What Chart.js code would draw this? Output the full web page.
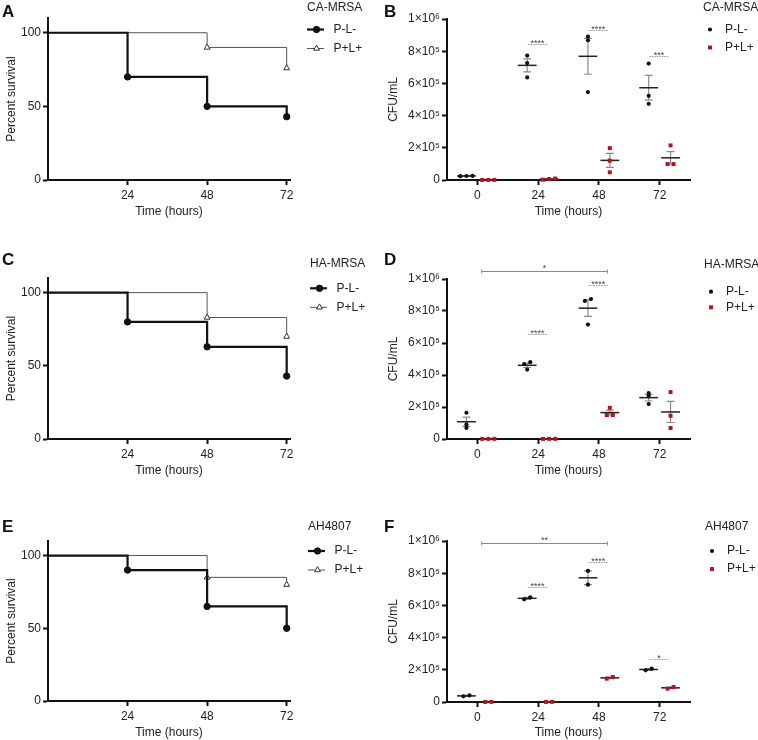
<!DOCTYPE html>
<html>
<head>
<meta charset="utf-8">
<script src="https://cdn.jsdelivr.net/npm/chart.js@4.4.1/dist/chart.umd.min.js"></script>
<style>
  html, body { margin: 0; padding: 0; background: #fff; }
  #fig { position: relative; width: 758px; height: 740px; overflow: hidden; }
  canvas { position: absolute; }
</style>
</head>
<body>
<div id="fig">
  <canvas id="pA" width="379" height="250" style="left:0;top:0"></canvas>
  <canvas id="pB" width="379" height="250" style="left:379px;top:0"></canvas>
  <canvas id="pC" width="379" height="240" style="left:0;top:250px"></canvas>
  <canvas id="pD" width="379" height="240" style="left:379px;top:250px"></canvas>
  <canvas id="pE" width="379" height="250" style="left:0;top:490px"></canvas>
  <canvas id="pF" width="379" height="250" style="left:379px;top:490px"></canvas>
</div>
<script>
// ---- survival curves (hours, percent survival) ----
const kmTimesNeg = [0, 24, 48, 72];
const kmTimesPos = [0, 48, 72];
const survA_neg = [100, 70, 50, 43];
const survA_pos = [100, 90, 76];
const survC_neg = [100, 80, 63, 43];
const survC_pos = [100, 83, 70];
const survE_neg = [100, 90, 65, 50];
const survE_pos = [100, 85, 80];
const survTicks = [0, 50, 100];
const kmTimeTicks = [24, 48, 72];

// ---- bacterial load, CFU/mL per animal at each time point ----
const timeLabels = ['0', '24', '48', '72'];
const cfuB_neg = [[24000, 26000, 25000], [773000, 726000, 637000], [891000, 868000, 546000], [723000, 523000, 473000]];
const cfuB_pos = [[800, 600, 1000], [2000, 9000, 6000], [198000, 120000, 48000], [215000, 99000, 99000]];
const cfuD_neg = [[164000, 91000, 69000], [480000, 468000, 434000], [875000, 863000, 715000], [287000, 270000, 218000]];
const cfuD_pos = [[800, 600, 1000], [800, 600, 1000], [195000, 150000, 150000], [293000, 145000, 69000]];
const cfuF_neg = [[35000, 41000], [638000, 650000], [814000, 729000], [197000, 207000]];
const cfuF_pos = [[500, 800], [700, 900], [145000, 155000], [83000, 93000]];
const cfuTicks = [0, 200000, 400000, 600000, 800000, 1000000];
const cfuTickLabels = ['0', '2×10⁵', '4×10⁵', '6×10⁵', '8×10⁵', '1×10⁶'];

// ---- significance marks ----
const sigB_time = [1, 2, 3];
const sigB_y = [843000, 934000, 773000];
const sigB_text = ['****', '****', '***'];
const sigD_time = [1, 2];
const sigD_y = [659000, 963000];
const sigD_text = ['****', '****'];
const sigD_bracket = [0, 2, 1052000, '*'];
const sigF_time = [1, 2, 3];
const sigF_y = [714000, 867000, 269000];
const sigF_text = ['****', '****', '*'];
const sigF_bracket = [0, 2, 990000, '**'];

const FONT = "'Liberation Sans', Arial, Helvetica, sans-serif";
Chart.defaults.font.family = FONT;
Chart.defaults.font.size = 12;
Chart.defaults.color = '#222';

// draw one legend marker like the dataset uses
function marker(ctx, ds, x, y) {
  const r = ds.legendRadius;
  ctx.save();
  ctx.fillStyle = ds.pointBackgroundColor;
  ctx.strokeStyle = ds.pointBorderColor;
  ctx.lineWidth = ds.pointBorderWidth || 1;
  ctx.beginPath();
  if (ds.pointStyle === 'triangle') {
    ctx.moveTo(x, y - r);
    ctx.lineTo(x + 0.866 * r, y + 0.5 * r);
    ctx.lineTo(x - 0.866 * r, y + 0.5 * r);
    ctx.closePath();
  } else if (ds.pointStyle === 'rect') {
    const s = Math.SQRT1_2 * r;
    ctx.rect(x - s, y - s, 2 * s, 2 * s);
  } else {
    ctx.arc(x, y, r, 0, Math.PI * 2);
  }
  ctx.fill();
  if (ds.pointBorderWidth) ctx.stroke();
  ctx.restore();
}

// panel letter + legend block
const decor = {
  id: 'decor',
  afterDraw(chart, args, o) {
    const ctx = chart.ctx;
    ctx.save();
    ctx.textAlign = 'left';
    ctx.textBaseline = 'middle';
    ctx.fillStyle = '#111';
    ctx.font = 'bold 17px ' + FONT;
    ctx.fillText(o.letter, o.letterX, o.letterY);
    ctx.font = '12px ' + FONT;
    ctx.fillStyle = '#222';
    ctx.fillText(o.title, o.x, o.ty);
    chart.data.datasets.forEach((ds, i) => {
      const y = o.rows[i];
      if (o.kind === 'km') {
        ctx.strokeStyle = ds.borderColor;
        ctx.lineWidth = ds.borderWidth;
        ctx.beginPath();
        ctx.moveTo(o.x, y);
        ctx.lineTo(o.x + 17, y);
        ctx.stroke();
        marker(ctx, ds, o.x + 9.5, y);
        ctx.fillStyle = '#222';
        ctx.fillText(ds.label, o.x + 26.5, y);
      } else {
        marker(ctx, ds, o.x + 7, y);
        ctx.fillStyle = '#222';
        ctx.fillText(ds.label, o.x + 22, y);
      }
    });
    ctx.restore();
  }
};

// mean +/- SEM for each time point
const meanSem = {
  id: 'meanSem',
  beforeDatasetsDraw(chart) {
    const { ctx, scales: { x, y } } = chart;
    ctx.save();
    chart.data.datasets.forEach(ds => {
      ds.groups.forEach((g, i) => {
        const n = g.length;
        const m = g.reduce((a, b) => a + b, 0) / n;
        const sd = Math.sqrt(g.reduce((a, b) => a + (b - m) * (b - m), 0) / (n - 1));
        const sem = sd / Math.sqrt(n);
        const cx = x.getPixelForValue(i + ds.side);
        const hw = x.getPixelForValue(0.155) - x.getPixelForValue(0);
        const cw = x.getPixelForValue(0.065) - x.getPixelForValue(0);
        const yt = y.getPixelForValue(m + sem), yb = y.getPixelForValue(m - sem);
        ctx.strokeStyle = '#8a8a8a';
        ctx.lineWidth = 1.2;
        ctx.beginPath();
        ctx.moveTo(cx, yt); ctx.lineTo(cx, yb);
        ctx.moveTo(cx - cw, yt); ctx.lineTo(cx + cw, yt);
        ctx.moveTo(cx - cw, yb); ctx.lineTo(cx + cw, yb);
        ctx.stroke();
        const ym = y.getPixelForValue(m);
        ctx.strokeStyle = '#222';
        ctx.lineWidth = 1.5;
        ctx.beginPath();
        ctx.moveTo(cx - hw, ym); ctx.lineTo(cx + hw, ym);
        ctx.stroke();
      });
    });
    ctx.restore();
  }
};

// asterisks: dotted pair lines and an optional bracket
const sig = {
  id: 'sig',
  afterDatasetsDraw(chart, args, o) {
    const { ctx, scales: { x, y } } = chart;
    ctx.save();
    ctx.textAlign = 'center';
    ctx.textBaseline = 'alphabetic';
    ctx.font = '9px ' + FONT;
    o.time.forEach((t, k) => {
      const x0 = x.getPixelForValue(t - 0.17), x1 = x.getPixelForValue(t + 0.15);
      const py = Math.round(y.getPixelForValue(o.y[k])) + 0.5;
      ctx.strokeStyle = '#9a9a9a';
      ctx.lineWidth = 1;
      ctx.setLineDash([1.5, 1]);
      ctx.beginPath(); ctx.moveTo(x0, py); ctx.lineTo(x1, py); ctx.stroke();
      ctx.setLineDash([]);
      ctx.fillStyle = '#444';
      ctx.fillText(o.text[k], (x0 + x1) / 2, py + 1);
    });
    if (o.bracket) {
      const [a, b, v, txt] = o.bracket;
      const x0 = x.getPixelForValue(a + 0.07), x1 = x.getPixelForValue(b + 0.14);
      const py = Math.round(y.getPixelForValue(v)) + 0.5;
      ctx.strokeStyle = '#8a8a8a';
      ctx.lineWidth = 1;
      ctx.beginPath();
      ctx.moveTo(x0, py); ctx.lineTo(x1, py);
      ctx.moveTo(x0, py - 2); ctx.lineTo(x0, py + 2);
      ctx.moveTo(x1, py - 2); ctx.lineTo(x1, py + 2);
      ctx.stroke();
      ctx.fillStyle = '#444';
      ctx.fillText(txt, (x0 + x1) / 2, py - 1);
    }
    ctx.restore();
  }
};

// spread points that would sit on top of each other
function spread(vals) {
  const idx = vals.map((v, i) => i).sort((a, b) => vals[a] - vals[b]);
  const off = new Array(vals.length).fill(0);
  let start = 0;
  for (let k = 1; k <= idx.length; k++) {
    if (k === idx.length || vals[idx[k]] - vals[idx[k - 1]] > 15000) {
      const n = k - start;
      for (let j = start; j < k; j++) off[idx[j]] = (j - start - (n - 1) / 2) * 0.1;
      start = k;
    }
  }
  return off;
}

function xAxis(box, min, max, ticks, fmt) {
  return {
    type: 'linear', min: min, max: max,
    afterBuildTicks: s => { s.ticks = ticks.map(v => ({ value: v })); },
    afterFit: s => { s.height = box.h - box.bottom; },
    ticks: { color: '#222', padding: 3, maxRotation: 0, autoSkip: false, callback: fmt },
    grid: { drawOnChartArea: false, tickLength: 5, tickWidth: 2, tickColor: '#111' },
    border: { color: '#111', width: 2 },
    title: { display: true, text: 'Time (hours)', color: '#222', padding: { top: 0, bottom: Math.max(0, box.h - box.bottom - 39) } }
  };
}

function yAxis(box, max, ticks, fmt, title) {
  return {
    type: 'linear', min: 0, max: max,
    afterBuildTicks: s => { s.ticks = ticks.map(v => ({ value: v })); },
    afterFit: s => { s.width = box.left; },
    ticks: { color: '#222', padding: 2, autoSkip: false, callback: fmt },
    grid: { drawOnChartArea: false, tickLength: 5, tickWidth: 2, tickColor: '#111' },
    border: { color: '#111', width: 2 },
    title: { display: true, text: title, color: '#222', padding: { top: box.ytitle - 7, bottom: 0 } }
  };
}

function layoutOf(box) {
  return { padding: { left: 0, top: box.top, right: 379 - box.right, bottom: 0 } };
}

function survivalChart(id, box, neg, pos, legend) {
  new Chart(id, {
    type: 'scatter',
    data: {
      datasets: [
        {
          label: 'P-L-',
          data: kmTimesNeg.map((t, i) => ({ x: t, y: neg[i] })),
          showLine: true, stepped: true,
          borderColor: '#111', borderWidth: 2.2,
          pointStyle: 'circle', pointBackgroundColor: '#111', pointBorderColor: '#111', pointBorderWidth: 1,
          pointRadius: c => c.dataIndex === 0 ? 0 : 3.2, legendRadius: 3.2,
          clip: false
        },
        {
          label: 'P+L+',
          data: kmTimesPos.map((t, i) => ({ x: t, y: pos[i] })),
          showLine: true, stepped: true,
          borderColor: '#555', borderWidth: 1,
          pointStyle: 'triangle', pointBackgroundColor: '#fff', pointBorderColor: '#333', pointBorderWidth: 1,
          pointRadius: c => c.dataIndex === 0 ? 0 : 3.4, legendRadius: 3.4,
          clip: false
        }
      ]
    },
    options: {
      responsive: false, animation: false, events: [],
      layout: layoutOf(box),
      plugins: { legend: { display: false }, tooltip: { enabled: false }, decor: legend },
      scales: {
        x: xAxis(box, 0, 73, kmTimeTicks, v => String(v)),
        y: yAxis(box, 110, survTicks, v => String(v), 'Percent survival')
      }
    },
    plugins: [decor]
  });
}

function cfuDataset(label, groups, side, color, style, r) {
  const pts = [];
  groups.forEach((g, i) => {
    const off = spread(g);
    g.forEach((v, k) => pts.push({ x: i + side + off[k], y: v }));
  });
  return {
    label: label, data: pts, groups: groups, side: side,
    pointStyle: style, pointRadius: r, legendRadius: r,
    pointBackgroundColor: color, pointBorderColor: color, pointBorderWidth: 0,
    clip: false
  };
}

function cfuChart(id, box, neg, pos, sigOpts, legend) {
  new Chart(id, {
    type: 'scatter',
    data: {
      datasets: [
        cfuDataset('P-L-', neg, -0.18, '#111', 'circle', 2.1),
        cfuDataset('P+L+', pos, 0.18, '#b5121b', 'rect', 2.8)
      ]
    },
    options: {
      responsive: false, animation: false, events: [],
      layout: layoutOf(box),
      plugins: { legend: { display: false }, tooltip: { enabled: false }, decor: legend, sig: sigOpts },
      scales: {
        x: xAxis(box, -0.5, 3.5, [0, 1, 2, 3], v => timeLabels[v]),
        y: yAxis(box, 1000000, cfuTicks, (v, i) => cfuTickLabels[i], 'CFU/mL')
      }
    },
    plugins: [meanSem, sig, decor]
  });
}

survivalChart('pA', { left: 48, top: 18, right: 290, bottom: 180, h: 250, ytitle: 11 },
  survA_neg, survA_pos,
  { kind: 'km', letter: 'A', letterX: 2, letterY: 12.5, title: 'CA-MRSA', x: 307, ty: 7.5, rows: [29.5, 48.5] });
cfuChart('pB', { left: 68, top: 19, right: 311, bottom: 180, h: 250, ytitle: 14 },
  cfuB_neg, cfuB_pos,
  { time: sigB_time, y: sigB_y, text: sigB_text },
  { kind: 'dot', letter: 'B', letterX: 5, letterY: 12.5, title: 'CA-MRSA', x: 324, ty: 7.5, rows: [29.5, 47.5] });
survivalChart('pC', { left: 48, top: 28, right: 290, bottom: 189, h: 240, ytitle: 11 },
  survC_neg, survC_pos,
  { kind: 'km', letter: 'C', letterX: 2, letterY: 10, title: 'HA-MRSA', x: 310, ty: 13.3, rows: [38.3, 57.3] });
cfuChart('pD', { left: 68, top: 29, right: 311, bottom: 189, h: 240, ytitle: 14 },
  cfuD_neg, cfuD_pos,
  { time: sigD_time, y: sigD_y, text: sigD_text, bracket: sigD_bracket },
  { kind: 'dot', letter: 'D', letterX: 5, letterY: 10, title: 'HA-MRSA', x: 325, ty: 15, rows: [41.7, 57.3] });
survivalChart('pE', { left: 48, top: 51, right: 290, bottom: 211, h: 250, ytitle: 11 },
  survE_neg, survE_pos,
  { kind: 'km', letter: 'E', letterX: 2, letterY: 37, title: 'AH4807', x: 308, ty: 36.7, rows: [61, 80] });
cfuChart('pF', { left: 68, top: 51, right: 311, bottom: 212, h: 250, ytitle: 14 },
  cfuF_neg, cfuF_pos,
  { time: sigF_time, y: sigF_y, text: sigF_text, bracket: sigF_bracket },
  { kind: 'dot', letter: 'F', letterX: 5, letterY: 37, title: 'AH4807', x: 326, ty: 36.7, rows: [61, 79] });
</script>
</body>
</html>
